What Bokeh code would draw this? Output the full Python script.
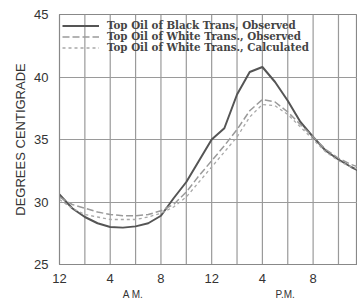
from bokeh.plotting import figure
from bokeh.models import FixedTicker, LinearAxis, Range1d, Legend, LegendItem, Span
from bokeh.embed import file_html
from bokeh.resources import INLINE

# data (hours after midnight, degrees centigrade)
hours = [0, 1, 2, 3, 4, 5, 6, 7, 8, 9, 10, 11, 12, 13, 14, 15, 16, 17, 18, 19, 20, 21, 22, 23, 23.6]
black_obs = [30.6, 29.5, 28.8, 28.3, 28.0, 27.95, 28.05, 28.3, 28.9, 30.3, 31.6, 33.3, 35.0, 35.9,
             38.6, 40.4, 40.8, 39.6, 38.1, 36.4, 35.2, 34.1, 33.4, 32.8, 32.5]
white_obs = [30.4, 29.8, 29.5, 29.2, 29.0, 28.9, 28.9, 29.0, 29.3, 29.8, 30.8, 32.1, 33.3, 34.5,
             35.8, 37.3, 38.2, 38.0, 37.2, 36.2, 35.2, 34.2, 33.5, 33.0, 32.8]
white_calc = [30.2, 29.5, 29.0, 28.8, 28.6, 28.6, 28.6, 28.8, 29.1, 29.6, 30.4, 31.6, 32.8, 34.0,
              35.2, 36.8, 37.8, 37.7, 37.0, 36.0, 35.0, 34.0, 33.3, 32.8, 32.6]
labels = ["Top Oil of Black Trans, Observed",
          "Top Oil of White Trans., Observed",
          "Top Oil of White Trans., Calculated"]
x_ticks = [0, 4, 8, 12, 16, 20]
x_tick_labels = ["12", "4", "8", "12", "4", "8"]
x_grid = [2, 4, 6, 8, 10, 12, 14, 16, 18, 20, 22]
y_ticks = [25, 30, 35, 40, 45]
period_pos = [5.8, 17.8]
period_labels = ["A M.", "P.M."]

TXT = "#333333"
GRID = "#9a9a9a"
p = figure(frame_width=298, frame_height=250, output_backend="svg", toolbar_location=None,
           x_range=Range1d(0, 23.5), y_range=Range1d(25, 45),
           min_border_left=59, min_border_right=0, min_border_top=14, min_border_bottom=0)
p.outline_line_color = "#888888"
p.outline_line_width = 1.2
p.xgrid.visible = False
p.ygrid.ticker = FixedTicker(ticks=y_ticks)
p.ygrid.grid_line_color = GRID
p.ygrid.grid_line_width = 1.2
for gx in x_grid:
    p.add_layout(Span(location=gx, dimension="height", line_color=GRID,
                      line_width=1.2, level="underlay"))

r1 = p.line(hours, black_obs, line_color="#555555", line_width=2.0)
r2 = p.line(hours, white_obs, line_color="#9a9a9a", line_width=1.5, line_dash="7 3")
r3 = p.line(hours, white_calc, line_color="#a8a8a8", line_width=1.3, line_dash="3 3")

p.xaxis.ticker = FixedTicker(ticks=x_ticks)
p.xaxis.major_label_overrides = {t: l for t, l in zip(x_ticks, x_tick_labels)}
p.yaxis.ticker = FixedTicker(ticks=y_ticks)

for ax in (p.xaxis, p.yaxis):
    ax.major_tick_line_color = None
    ax.minor_tick_line_color = None
    ax.axis_line_color = "#888888"
    ax.major_label_text_font = "Liberation Sans"
    ax.major_label_text_font_size = "13px"
    ax.major_label_text_color = TXT
p.yaxis.major_label_standoff = 5
p.xaxis.major_label_standoff = 3

p.yaxis.axis_label = "DEGREES CENTIGRADE"
p.yaxis.axis_label_text_font = "Liberation Sans"
p.yaxis.axis_label_text_font_style = "normal"
p.yaxis.axis_label_text_font_size = "13px"
p.yaxis.axis_label_text_color = TXT
p.yaxis.axis_label_standoff = 3

ax2 = LinearAxis(ticker=FixedTicker(ticks=period_pos),
                 major_label_overrides={t: l for t, l in zip(period_pos, period_labels)},
                 axis_line_color=None, major_tick_line_color=None, minor_tick_line_color=None,
                 major_label_text_font="Liberation Sans", major_label_text_font_size="10px",
                 major_label_text_color=TXT, major_label_standoff=-3)
p.add_layout(ax2, "below")

# one legend per row, so rows can sit close together
for i, (lab, r) in enumerate(zip(labels, [r1, r2, r3])):
    leg = Legend(items=[LegendItem(label=lab, renderers=[r])],
                 location=(3, 233 - 11 * i), margin=0, padding=0, spacing=0,
                 glyph_width=37, glyph_height=11, label_height=11, label_standoff=8,
                 label_text_font="DejaVu Serif", label_text_font_style="bold",
                 label_text_font_size="10.3px", label_text_color="#444444",
                 border_line_color=None, background_fill_alpha=0)
    p.add_layout(leg)

open("out.html", "w").write(file_html(p, INLINE))
